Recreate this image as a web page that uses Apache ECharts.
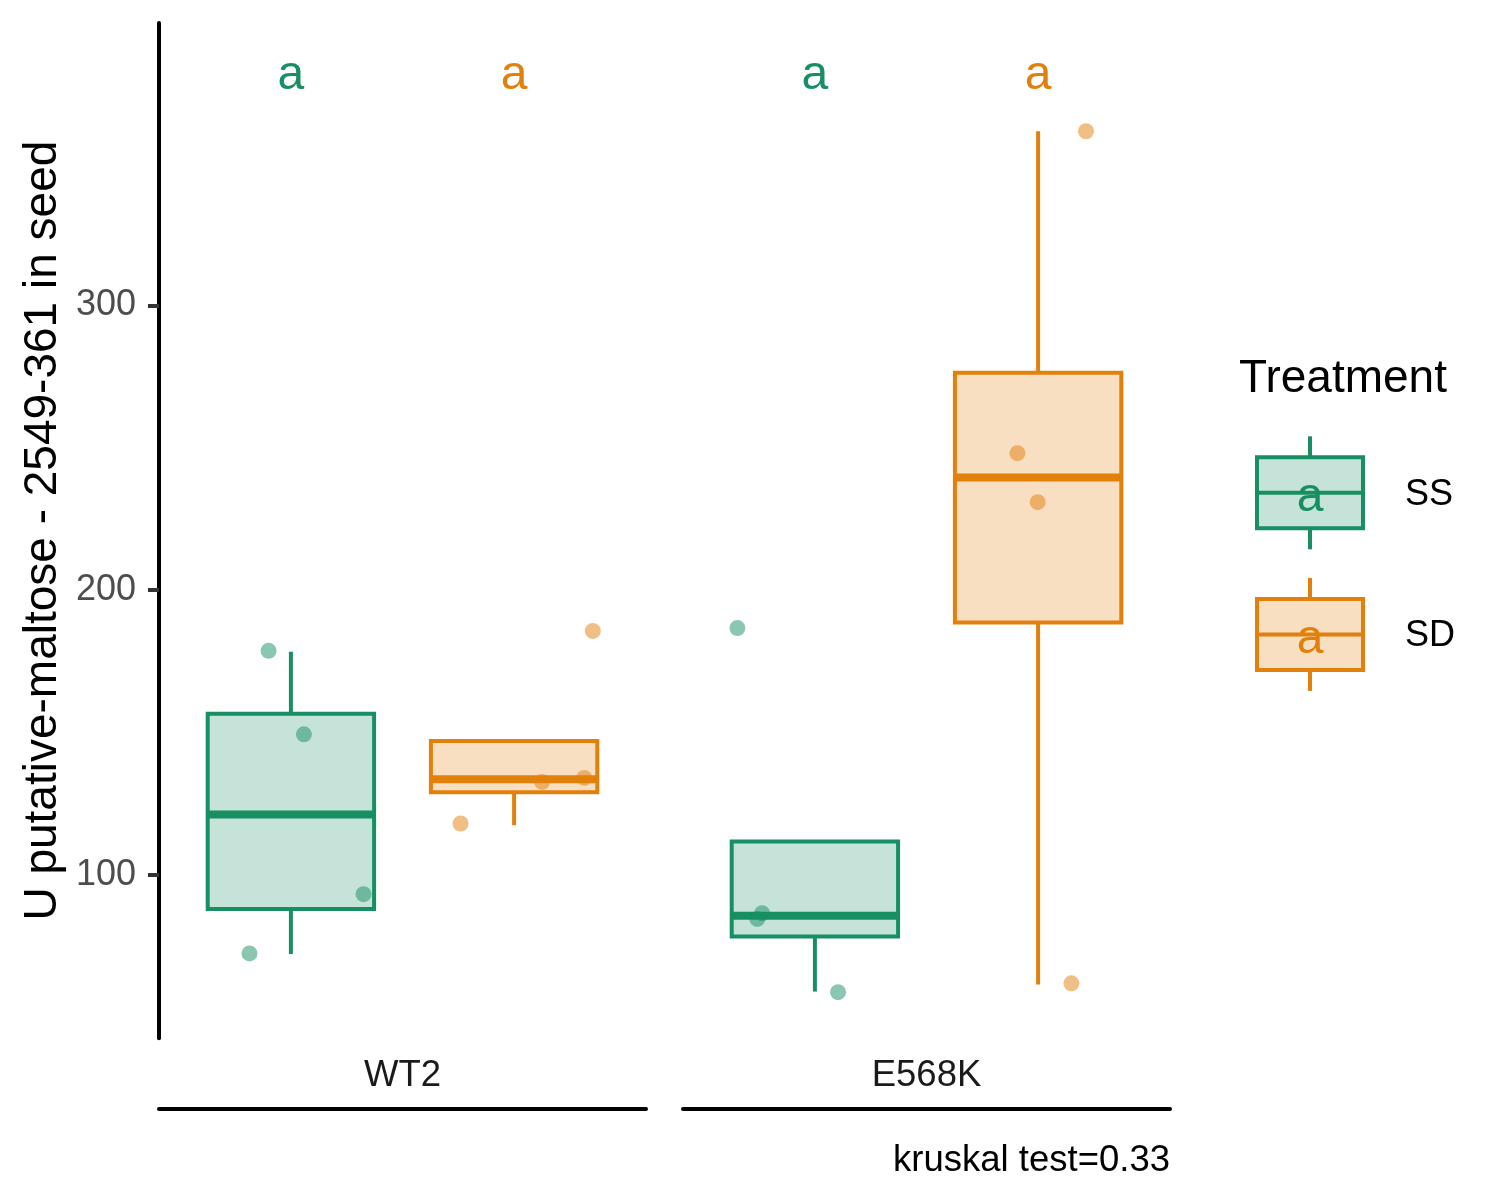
<!DOCTYPE html>
<html lang="en">
<head>
<meta charset="UTF-8">
<title>U putative-maltose - 2549-361 in seed</title>
<script src="https://cdn.jsdelivr.net/npm/echarts@6/dist/echarts.min.js"></script>
<style>
    html, body { margin: 0; padding: 0; background: #fff; }
    #chart { width: 1500px; height: 1200px; }
</style>
</head>
<body>
<div id="chart"></div>
<script>
    // ---- data ----
    var genotypes = ['WT2', 'E568K'];
    var treatments = ['SS', 'SD'];
    var yTicks = [100, 200, 300];

    // box stats: [lower whisker, Q1, median, Q3, upper whisker]
    var wt2SS   = [72.3, 88.1, 121.3, 156.6, 178.4];
    var wt2SD   = [117.5, 129.1, 133.6, 147.1, 147.1];
    var e568kSS = [59.1, 78.4, 85.7, 111.8, 111.8];
    var e568kSD = [61.6, 188.7, 239.6, 276.3, 361.1];

    // raw points
    var wt2SSPts   = [178.7, 149.4, 93.3, 72.5];
    var wt2SDPts   = [185.7, 118.1, 132.7, 134.1];
    var e568kSSPts = [186.7, 86.6, 84.6, 58.9];
    var e568kSDPts = [361.1, 248.1, 230.9, 62.0];

    // horizontal jitter of each point (x units, box centre = 0)
    var wt2SSJit   = [-0.055, 0.032, 0.179, -0.102];
    var wt2SDJit   = [0.194, -0.132, 0.069, 0.173];
    var e568kSSJit = [-0.191, -0.130, -0.142, 0.057];
    var e568kSDJit = [0.118, -0.051, -0.001, 0.082];

    // significance letters (SS, SD) and where they sit
    var wt2Letters   = ['a', 'a'];
    var e568kLetters = ['a', 'a'];
    var letterY = 380.6;

    var kruskalP = 0.33;

    // ---- look ----
    var FONT = "'Liberation Sans', Arial, Helvetica, sans-serif";
    var lineCol = { SS: '#178F62', SD: '#E2800C' };
    var fillCol = { SS: 'rgba(23,143,98,0.25)', SD: 'rgba(226,128,12,0.25)' };
    var ptCol   = { SS: 'rgba(23,143,98,0.5)', SD: 'rgba(226,128,12,0.5)' };
    var dodge = [-0.275, 0.275];
    var boxWidth = 0.41;
    var yMin = 42.7, yMax = 399.1;

    var boxes   = [[wt2SS, wt2SD], [e568kSS, e568kSD]];
    var points  = [[wt2SSPts, wt2SDPts], [e568kSSPts, e568kSDPts]];
    var jitters = [[wt2SSJit, wt2SDJit], [e568kSSJit, e568kSDJit]];
    var letters = [wt2Letters, e568kLetters];

    function makeBoxRender(stroke, fill) {
        return function (params, api) {
            var x = api.value(0);
            var lo = api.coord([x, api.value(1)]);
            var q1 = api.coord([x, api.value(2)]);
            var md = api.coord([x, api.value(3)]);
            var q3 = api.coord([x, api.value(4)]);
            var hi = api.coord([x, api.value(5)]);
            var half = api.size([boxWidth, 0])[0] / 2;
            return {
                type: 'group',
                children: [
                    { type: 'line', shape: { x1: q3[0], y1: q3[1], x2: hi[0], y2: hi[1] },
                      style: { stroke: stroke, lineWidth: 4 } },
                    { type: 'line', shape: { x1: lo[0], y1: lo[1], x2: q1[0], y2: q1[1] },
                      style: { stroke: stroke, lineWidth: 4 } },
                    { type: 'rect', shape: { x: q3[0] - half, y: q3[1], width: half * 2, height: q1[1] - q3[1] },
                      style: { fill: fill, stroke: stroke, lineWidth: 4 } },
                    { type: 'line', shape: { x1: md[0] - half, y1: md[1], x2: md[0] + half, y2: md[1] },
                      style: { stroke: stroke, lineWidth: 8 } }
                ]
            };
        };
    }

    var series = [];
    genotypes.forEach(function (g, gi) {
        treatments.forEach(function (t, ti) {
            var cx = 1 + dodge[ti];
            series.push({
                name: t,
                type: 'custom',
                xAxisIndex: gi, yAxisIndex: gi,
                renderItem: makeBoxRender(lineCol[t], fillCol[t]),
                encode: { x: 0, y: [1, 2, 3, 4, 5] },
                data: [[cx].concat(boxes[gi][ti])],
                z: 2
            });
            series.push({
                name: t,
                type: 'scatter',
                xAxisIndex: gi, yAxisIndex: gi,
                symbolSize: 16,
                itemStyle: { color: ptCol[t], opacity: 1 },
                data: points[gi][ti].map(function (v, k) { return [cx + jitters[gi][ti][k], v]; }),
                z: 3
            });
            series.push({
                type: 'scatter',
                xAxisIndex: gi, yAxisIndex: gi,
                symbolSize: 1,
                itemStyle: { color: 'rgba(0,0,0,0)', opacity: 1 },
                label: {
                    show: true, position: 'inside',
                    formatter: letters[gi][ti],
                    color: lineCol[t], opacity: 1, fontSize: 48, fontFamily: FONT
                },
                data: [[cx, letterY]],
                z: 4
            });
        });
    });

    function legendKey(cy, t) {
        var cx = 1310, w = 106, h = 71, wl = 21;
        return {
            type: 'group',
            children: [
                { type: 'line', shape: { x1: cx, y1: cy - h / 2 - wl, x2: cx, y2: cy - h / 2 },
                  style: { stroke: lineCol[t], lineWidth: 4 } },
                { type: 'line', shape: { x1: cx, y1: cy + h / 2, x2: cx, y2: cy + h / 2 + wl },
                  style: { stroke: lineCol[t], lineWidth: 4 } },
                { type: 'rect', shape: { x: cx - w / 2, y: cy - h / 2, width: w, height: h },
                  style: { fill: fillCol[t], stroke: lineCol[t], lineWidth: 4 } },
                { type: 'line', shape: { x1: cx - w / 2, y1: cy, x2: cx + w / 2, y2: cy },
                  style: { stroke: lineCol[t], lineWidth: 4 } },
                { type: 'text', x: cx, y: cy + 5,
                  style: { text: 'a', fill: lineCol[t], font: '48px ' + FONT,
                           align: 'center', verticalAlign: 'middle',
                           textAlign: 'center', textVerticalAlign: 'middle' } },
                { type: 'text', x: 1405, y: cy + 2,
                  style: { text: t, fill: '#000', font: '36px ' + FONT,
                           align: 'left', verticalAlign: 'middle',
                           textAlign: 'left', textVerticalAlign: 'middle' } }
            ]
        };
    }

    var myChart = echarts.init(document.getElementById('chart'));
    var option = {
        animation: false,
        backgroundColor: '#fff',
        textStyle: { fontFamily: FONT },
        grid: [
            { left: 159, top: 23, width: 487, height: 1015.3 },
            { left: 683, top: 23, width: 487, height: 1015.3 }
        ],
        xAxis: genotypes.map(function (g, gi) {
            return {
                gridIndex: gi,
                type: 'value',
                min: 0.4, max: 1.6,
                offset: 70,
                axisLine: { show: true, onZero: false, lineStyle: { color: '#000', width: 4 } },
                axisTick: { show: false },
                axisLabel: { show: false },
                splitLine: { show: false },
                name: g,
                nameLocation: 'middle',
                nameGap: -32,
                nameTextStyle: { fontSize: 36.5, color: '#1a1a1a', fontFamily: FONT, verticalAlign: 'middle' }
            };
        }),
        yAxis: [
            {
                gridIndex: 0,
                type: 'value',
                min: yMin, max: yMax,
                axisLine: { show: true, lineStyle: { color: '#000', width: 4 } },
                axisTick: { show: true, length: 11, customValues: yTicks, lineStyle: { color: '#333', width: 4 } },
                axisLabel: { customValues: yTicks, margin: 23, fontSize: 36, color: '#4d4d4d', fontFamily: FONT },
                splitLine: { show: false },
                name: 'U putative-maltose - 2549-361 in seed',
                nameLocation: 'middle',
                nameRotate: 90,
                nameGap: 116,
                nameTextStyle: { fontSize: 46, color: '#000', fontFamily: FONT, verticalAlign: 'middle' }
            },
            {
                gridIndex: 1,
                type: 'value',
                min: yMin, max: yMax,
                show: false
            }
        ],
        graphic: [
            { type: 'text', x: 1239, y: 379,
              style: { text: 'Treatment', fill: '#000', font: '46px ' + FONT,
                       align: 'left', verticalAlign: 'middle',
                       textAlign: 'left', textVerticalAlign: 'middle' } },
            legendKey(492.8, 'SS'),
            legendKey(634.4, 'SD'),
            { type: 'text', x: 1170, y: 1161,
              style: { text: 'kruskal test=' + kruskalP, fill: '#000', font: '36.5px ' + FONT,
                       align: 'right', verticalAlign: 'middle',
                       textAlign: 'right', textVerticalAlign: 'middle' } }
        ],
        series: series
    };
    myChart.setOption(option);
</script>
</body>
</html>
